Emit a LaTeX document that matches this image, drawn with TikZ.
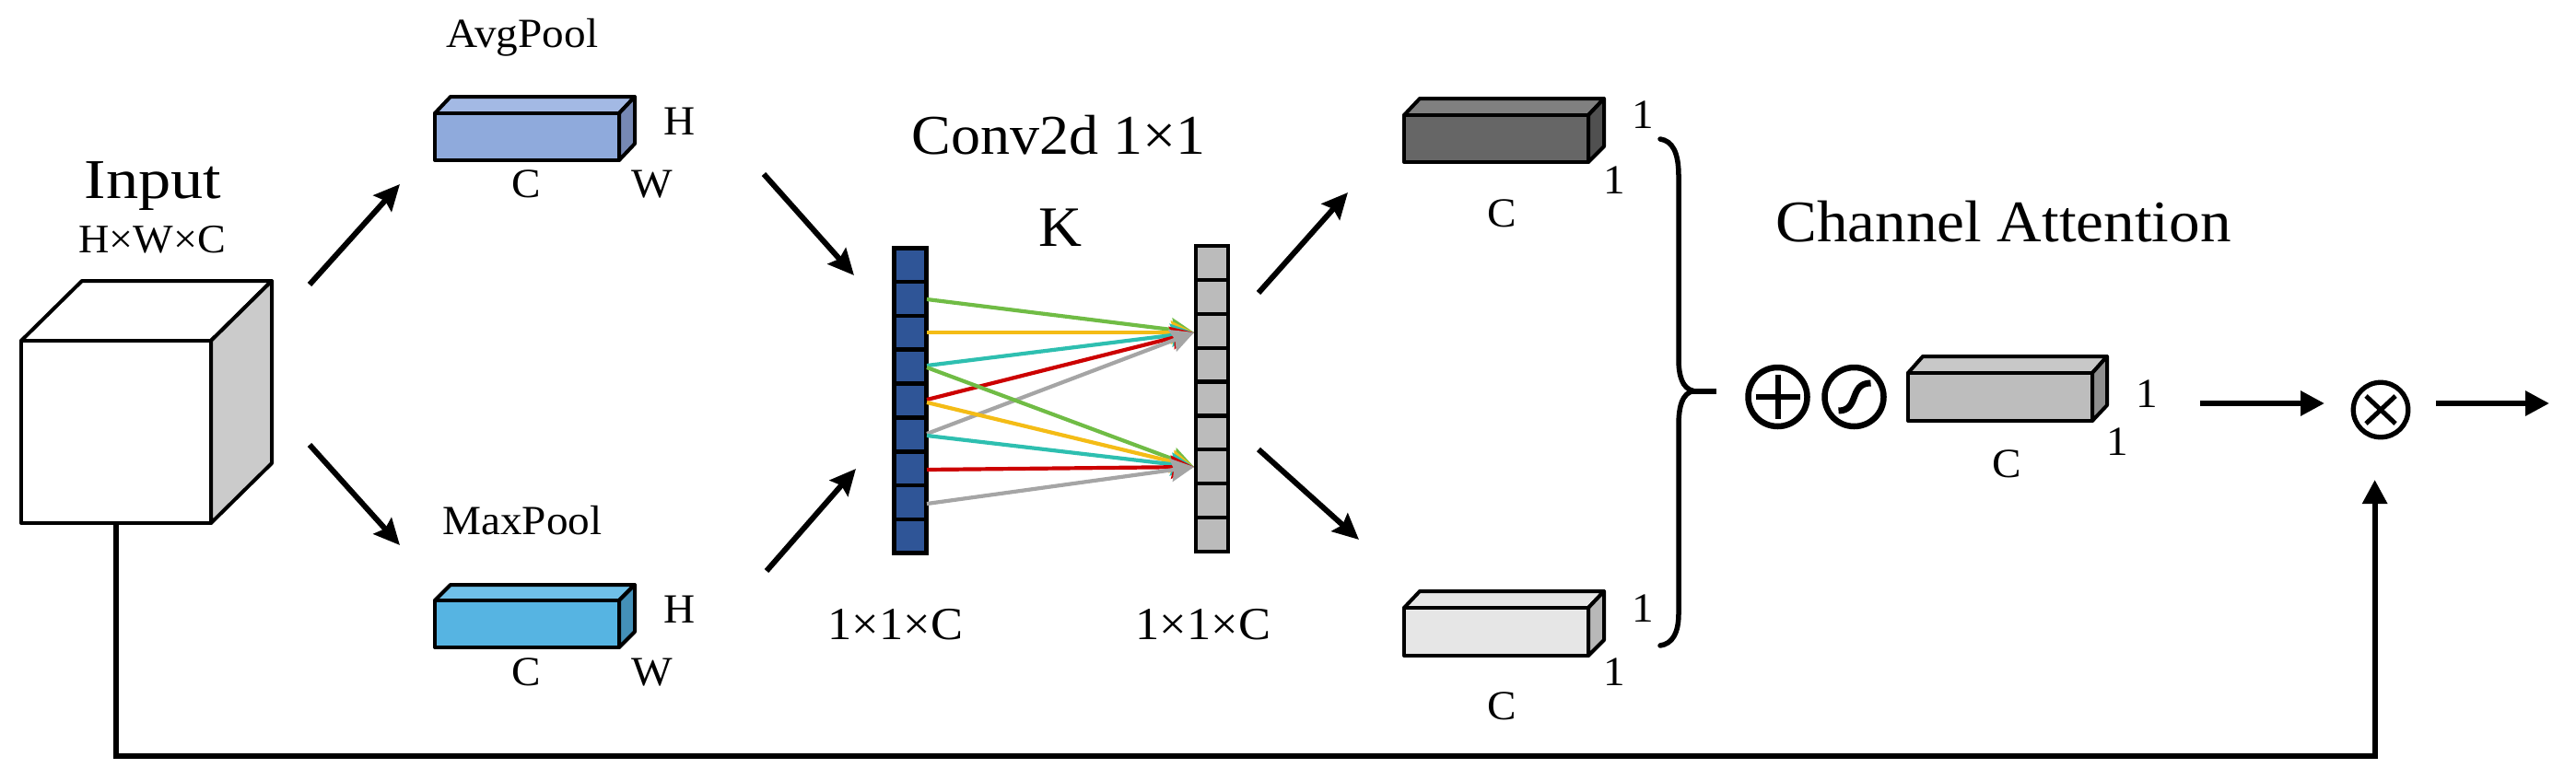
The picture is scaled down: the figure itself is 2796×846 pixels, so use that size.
\documentclass[tikz,border=0pt]{standalone}
\usepackage{fontspec}
\setmainfont{Liberation Serif}[FakeStretch=1.05]
\usetikzlibrary{arrows.meta,calc}
\definecolor{avgF}{HTML}{8FAADC}\definecolor{avgT}{HTML}{A3B9E4}\definecolor{avgS}{HTML}{7688B4}
\definecolor{maxF}{HTML}{56B4E2}\definecolor{maxT}{HTML}{6FC0E8}\definecolor{maxS}{HTML}{4490B8}
\definecolor{drkF}{HTML}{666666}\definecolor{drkT}{HTML}{808080}\definecolor{drkS}{HTML}{505050}
\definecolor{lgtF}{HTML}{E6E6E6}\definecolor{lgtT}{HTML}{E6E6E6}\definecolor{lgtS}{HTML}{B8B8B8}
\definecolor{resF}{HTML}{BDBDBD}\definecolor{resT}{HTML}{C8C8C8}\definecolor{resS}{HTML}{8F8F8F}
\definecolor{cubeS}{HTML}{CBCBCB}
\definecolor{colB}{HTML}{2F5597}\definecolor{colG}{HTML}{BBBBBB}
\definecolor{lnGreen}{HTML}{70BC45}\definecolor{lnYellow}{HTML}{F4BC16}\definecolor{lnTeal}{HTML}{2EBFB0}
\definecolor{lnRed}{HTML}{CC0000}\definecolor{lnGray}{HTML}{A5A5A5}
\newcommand{\szfont}[1]{\fontsize{#1pt}{#1pt}\selectfont}
% name, front x0,y0,x1,y1, back x,y(top), colour prefix, right-bottom y
\newcommand{\threed}[9]{%
  \filldraw[edge,fill=#8T] (#2,#3) -- (#6,#7) -- (#4+#6-#2,#7) -- (#4,#3) -- cycle;
  \filldraw[edge,fill=#8S] (#4,#3) -- (#4+#6-#2,#7) -- (#4+#6-#2,#9) -- (#4,#5) -- cycle;
  \node[edge,draw,fill=#8F,anchor=north west,minimum width={#4-#2},minimum height={#5-#3},inner sep=0pt,outer sep=0pt] (#1) at (#2,#3) {};
}
\tikzset{
  edge/.style={line width=4pt,draw=black,line join=round},
  lab/.style={anchor=base,inner sep=0pt,outer sep=0pt,text=black},
  small/.style={lab,font=\szfont{45}},
  big/.style={lab,font=\szfont{61}},
  conn/.style={line width=6pt,draw=black,-{Stealth[length=28pt,width=26pt,inset=4pt]}},
  flat/.style={line width=6pt,draw=black,-{Triangle[length=26pt,width=26pt]}},
  colored/.style={line width=4.2pt,-{Stealth[length=25pt,width=25pt,inset=3pt]}},
  op/.style={circle,draw=black,minimum size=64pt,inner sep=0pt,outer sep=0pt,line width=6.5pt},
}
\begin{document}
\begin{tikzpicture}[x=1pt,y=-1pt]
\useasboundingbox[fill=white] (0,0) rectangle (2796,846);
% input cube
\filldraw[edge,fill=white] (23,370) -- (89,305) -- (295,305) -- (229,370) -- cycle;
\filldraw[edge,fill=cubeS] (229,370) -- (295,305) -- (295,503) -- (229,568) -- cycle;
\node[edge,draw,fill=white,anchor=north west,minimum width=206pt,minimum height=198pt,inner sep=0pt,outer sep=0pt] (cube) at (23,370) {};
\node[big] (tinput) at (166,215) {\scalebox{1.1}[1]{Input}};
\node[lab,font=\szfont{44}] (tdims) at (165,274) {H×W×C};
% pooled boxes
\threed{avg}{472}{123}{672}{174}{489}{105}{avg}{156}
\threed{max}{472}{652}{672}{703}{489}{635}{max}{686}
\node[small] (tavg) at (567,51) {AvgPool};
\node[small] (tmax) at (567,580) {MaxPool};
\node[small] (tah) at (738,146) {H};
\node[small] (tac) at (571,214) {C};
\node[small] (taw) at (708,214) {W};
\node[small] (tmh) at (738,676) {H};
\node[small] (tmc) at (571,744) {C};
\node[small] (tmw) at (708,744) {W};
% arrow ends
\coordinate (a1s) at (336,309); \coordinate (a1e) at (434,200);
\coordinate (a2s) at (336,483); \coordinate (a2e) at (434,592);
\coordinate (a3s) at (829,189); \coordinate (a3e) at (927,299);
\coordinate (a4s) at (832,620); \coordinate (a4e) at (929,509);
\coordinate (a5s) at (1366,318); \coordinate (a5e) at (1463,209);
\coordinate (a6s) at (1366,488); \coordinate (a6e) at (1475,586);
\foreach \p/\q in {a1s/a1e,a2s/a2e,a3s/a3e,a4s/a4e,a5s/a5e,a6s/a6e}
  \draw[conn] (\p) -- (\q);
% columns
\node[draw=black,fill=colB,line width=4.6pt,anchor=north west,minimum width=35.4pt,minimum height=331.4pt,inner sep=0pt,outer sep=0pt] (blue) at (970.3,269.3) {};
\node[draw=black,fill=colG,line width=4.2pt,anchor=north west,minimum width=34.8pt,minimum height=331.8pt,inner sep=0pt,outer sep=0pt] (grey) at (1298.1,267.1) {};
\foreach \i in {1,...,8}{
  \draw[line width=4.6pt] (970.3,269.3+36.82*\i) -- (1005.7,269.3+36.82*\i);
  \draw[line width=4.2pt] (1298.1,267.1+36.87*\i) -- (1332.9,267.1+36.87*\i);
}
\coordinate (t1) at (1296,361); \coordinate (t2) at (1296,507);
\coordinate (b1) at (1006,325); \coordinate (b2) at (1006,361); \coordinate (b3) at (1006,397);
\coordinate (b4) at (1006,434); \coordinate (b5) at (1006,471);
\coordinate (c1) at (1006,399); \coordinate (c2) at (1006,437); \coordinate (c3) at (1006,473);
\coordinate (c4) at (1006,510); \coordinate (c5) at (1006,547);
\foreach \p/\t/\c in {b1/t1/lnGreen,b2/t1/lnYellow,b3/t1/lnTeal,b4/t1/lnRed,b5/t1/lnGray,
                      c1/t2/lnGreen,c2/t2/lnYellow,c3/t2/lnTeal,c4/t2/lnRed,c5/t2/lnGray}
  \draw[colored,\c] (\p) -- (\t);
\node[big] (tconv) at (1149.5,167) {Conv2d 1×1};
\node[lab,font=\szfont{62}] (tk) at (1150.7,267.7) {K};
\node[lab,font=\szfont{50}] (tc1) at (972,694) {1×1×C};
\node[lab,font=\szfont{50}] (tc2) at (1306,694) {1×1×C};
% output boxes
\threed{drk}{1524}{125}{1724}{176}{1541}{107}{drk}{159}
\threed{lgt}{1524}{660}{1724}{712}{1541}{642}{lgt}{695}
\node[small] (td1) at (1783,139) {1};
\node[small] (td2) at (1752,210) {1};
\node[small] (tdc) at (1630,246) {C};
\node[small] (tl1) at (1783,675) {1};
\node[small] (tl2) at (1752,744) {1};
\node[small] (tlc) at (1630,781) {C};
% brace
\draw[line width=5.5pt,line cap=round] (1802,151) .. controls (1815,153) and (1822,165) .. (1822,191)
  -- (1822,390) .. controls (1822,408) and (1826,422) .. (1838,424.5)
  .. controls (1826,427) and (1822,441) .. (1822,462) -- (1822,666)
  .. controls (1822,688) and (1815,699) .. (1802,701);
\draw[line width=6pt] (1832,424.5) -- (1863,424.5);
\node[lab,font=\szfont{64}] (tca) at (2174.5,262) {Channel Attention};
% operators
\node[op] (plus) at (1929.5,431) {};
\draw[line width=6pt] ($(plus)+(-24,0)$) -- ($(plus)+(24,0)$);
\draw[line width=6pt] ($(plus)+(0,-24)$) -- ($(plus)+(0,24)$);
\node[op] (sig) at (2012.5,431) {};
\draw[line width=7pt] ($(sig)+(-17,15)$) .. controls ($(sig)+(6,15)$) and ($(sig)+(-6,-15)$) .. ($(sig)+(18,-15)$);
\threed{res}{2071}{405}{2271}{457}{2087}{387}{res}{440}
\node[small] (tr1) at (2330,442) {1};
\node[small] (tr2) at (2298,494) {1};
\node[small] (trc) at (2178,518) {C};
\node[op,minimum size=59.5pt,line width=5.3pt] (mul) at (2584,445) {};
\draw[line width=5pt] ($(mul)+(-16,-15)$) -- ($(mul)+(16,15)$);
\draw[line width=5pt] ($(mul)+(-16,15)$) -- ($(mul)+(16,-15)$);
% horizontal arrows
\coordinate (h1s) at (2388,438); \coordinate (h1e) at (2523,438);
\coordinate (h2s) at (2644,438); \coordinate (h2e) at (2767,438);
\draw[flat] (h1s) -- (h1e);
\draw[flat] (h2s) -- (h2e);
% skip connection
\coordinate (fb) at (2577.6,821); \coordinate (fbe) at (2577.6,521);
\draw[flat,line join=miter] (cube.south) |- (fb) -- (fbe);
\end{tikzpicture}
\end{document}
